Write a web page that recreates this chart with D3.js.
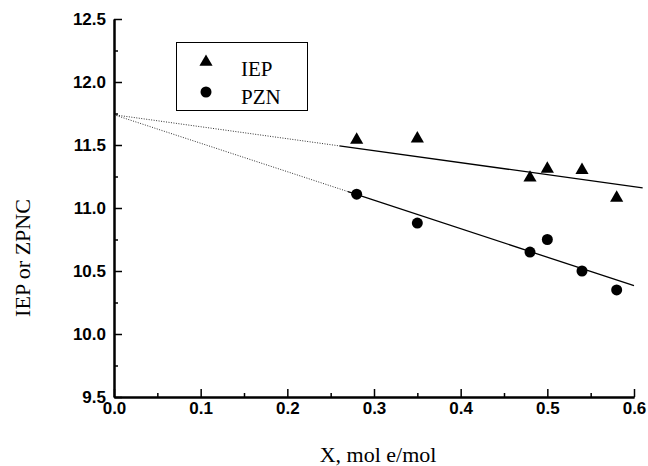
<!DOCTYPE html>
<html>
<head>
<meta charset="utf-8">
<script src="https://cdn.jsdelivr.net/npm/d3@7"></script>
<style>
  body { margin: 0; background: #fff; }
  svg { display: block; }
</style>
</head>
<body>
<svg id="chart" width="648" height="466"></svg>
<script>
// data
const xVals = [0.28, 0.35, 0.48, 0.50, 0.54, 0.58];
const iepVals = [11.54, 11.55, 11.24, 11.31, 11.30, 11.08];
const pznVals = [11.11, 10.88, 10.65, 10.75, 10.50, 10.35];
// fitted lines: [x, y] at intercept, start of solid part, end
const iepFit = [[0, 11.74], [0.26, 11.493], [0.61, 11.16]];
const pznFit = [[0, 11.74], [0.27, 11.13], [0.6, 10.383]];
const xTicks = [0, 0.1, 0.2, 0.3, 0.4, 0.5, 0.6];
const xMinor = [0.05, 0.15, 0.25, 0.35, 0.45, 0.55];
const yTicks = [9.5, 10.0, 10.5, 11.0, 11.5, 12.0, 12.5];
const yMinor = [9.75, 10.25, 10.75, 11.25, 11.75, 12.25];
const legendLabels = ["IEP", "PZN"];

const svg = d3.select('#chart');
const x = d3.scaleLinear().domain([0, 0.6]).range([114, 634]);
const y = d3.scaleLinear().domain([9.5, 12.5]).range([397, 19]);

const tickFont = "'Liberation Sans', Arial, sans-serif";
const serif = "'Liberation Serif', 'Times New Roman', serif";

// fit lines
function drawFit(fit) {
    svg.append('line')
        .attr('x1', x(fit[0][0])).attr('y1', y(fit[0][1]))
        .attr('x2', x(fit[1][0])).attr('y2', y(fit[1][1]))
        .attr('stroke', '#333').attr('stroke-width', 1)
        .attr('stroke-dasharray', '1,1.5');
    svg.append('line')
        .attr('x1', x(fit[1][0])).attr('y1', y(fit[1][1]))
        .attr('x2', x(fit[2][0])).attr('y2', y(fit[2][1]))
        .attr('stroke', '#000').attr('stroke-width', 1.3);
}
drawFit(iepFit);
drawFit(pznFit);

// axes
const minorX = svg.append('g').attr('transform', 'translate(0,397)')
    .call(d3.axisBottom(x).tickValues(xMinor).tickFormat('').tickSizeInner(-4).tickSizeOuter(0));
const majorX = svg.append('g').attr('transform', 'translate(0,397)')
    .call(d3.axisBottom(x).tickValues(xTicks).tickFormat(d3.format('.1f'))
        .tickSizeInner(-8).tickSizeOuter(0).tickPadding(5));
const minorY = svg.append('g').attr('transform', 'translate(114,0)')
    .call(d3.axisLeft(y).tickValues(yMinor).tickFormat('').tickSizeInner(-4).tickSizeOuter(0));
const majorY = svg.append('g').attr('transform', 'translate(114,0)')
    .call(d3.axisLeft(y).tickValues(yTicks).tickFormat(d3.format('.1f'))
        .tickSizeInner(-8).tickSizeOuter(0).tickPadding(8));

[minorX, majorX, minorY, majorY].forEach(g => {
    g.select('.domain').attr('stroke', '#000').attr('stroke-width', 2);
    g.selectAll('.tick line').attr('stroke', '#000').attr('stroke-width', 1.5);
    g.selectAll('text')
        .attr('fill', '#000')
        .style('font-family', tickFont)
        .style('font-size', '17px')
        .style('font-weight', 'bold');
});

// markers
const tri = d3.symbol().type(d3.symbolTriangle).size(75);
svg.append('g').selectAll('path')
    .data(xVals.map((d, i) => [d, iepVals[i]]))
    .join('path')
    .attr('d', tri)
    .attr('transform', d => `translate(${x(d[0])},${y(d[1])})`)
    .attr('fill', '#000');

svg.append('g').selectAll('circle')
    .data(xVals.map((d, i) => [d, pznVals[i]]))
    .join('circle')
    .attr('cx', d => x(d[0]))
    .attr('cy', d => y(d[1]))
    .attr('r', 5.5)
    .attr('fill', '#000');

// legend
const legend = svg.append('g');
legend.append('rect')
    .attr('x', 176.5).attr('y', 42.5).attr('width', 131).attr('height', 68)
    .attr('fill', '#fff').attr('stroke', '#000').attr('stroke-width', 1);
legend.append('path').attr('d', tri)
    .attr('transform', 'translate(206,62)').attr('fill', '#000');
legend.append('circle').attr('cx', 206).attr('cy', 92).attr('r', 5.5).attr('fill', '#000');
legend.selectAll('text')
    .data(legendLabels)
    .join('text')
    .attr('x', 241)
    .attr('y', (d, i) => 76 + i * 28)
    .style('font-family', serif)
    .style('font-size', '21px')
    .text(d => d);

// axis titles
svg.append('text')
    .attr('x', 378).attr('y', 462)
    .attr('text-anchor', 'middle')
    .style('font-family', serif)
    .style('font-size', '22px')
    .text('X, mol e/mol');

svg.append('text')
    .attr('transform', 'translate(30,258) rotate(-90)')
    .attr('text-anchor', 'middle')
    .style('font-family', serif)
    .style('font-size', '22px')
    .text('IEP or ZPNC');
</script>
</body>
</html>
